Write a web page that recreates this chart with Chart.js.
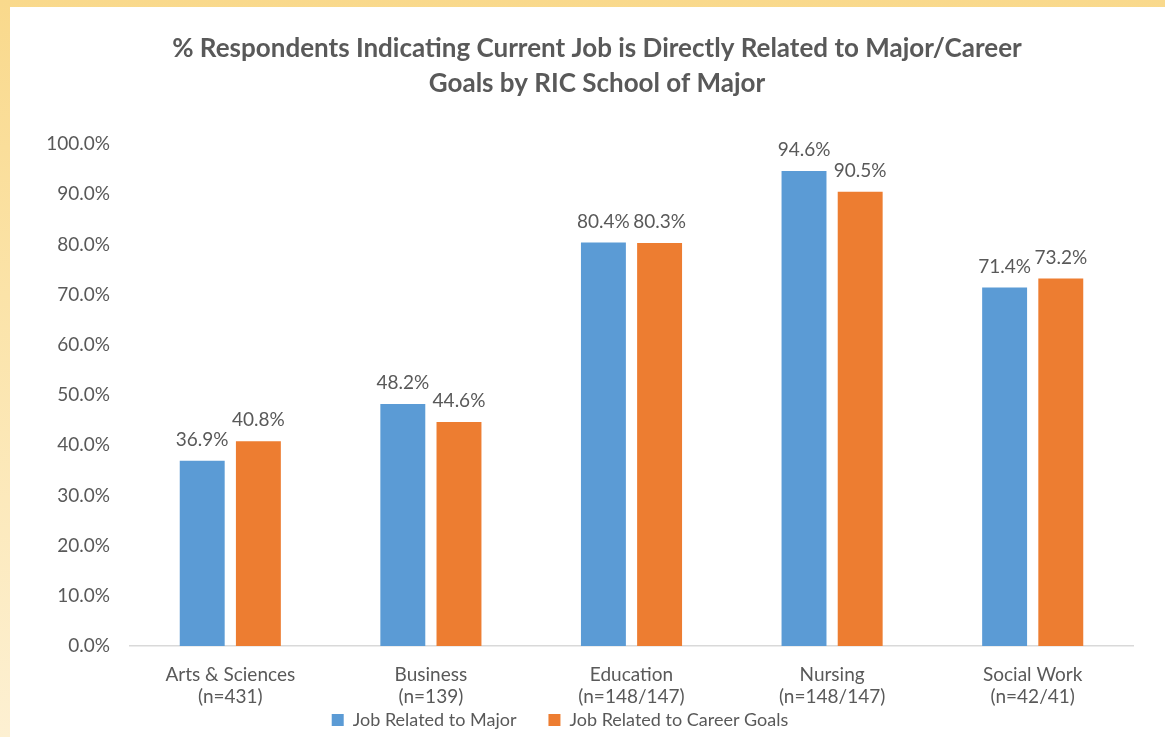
<!DOCTYPE html>
<html>
<head>
<meta charset="utf-8">
<script src="https://cdn.jsdelivr.net/npm/chart.js@4.4.1/dist/chart.umd.min.js"></script>
<style>
  html, body { margin: 0; padding: 0; }
  body {
    width: 1165px; height: 737px; overflow: hidden;
    background: linear-gradient(to bottom, #f9d98c 0%, #fbe3a8 40%, #fdf0d2 100%);
    position: relative;
  }
  #wrap {
    position: absolute; left: 10px; top: 7px; width: 1155px; height: 730px;
    background: #ffffff;
  }
</style>
</head>
<body>
<div id="wrap"><canvas id="c" width="1155" height="730"></canvas></div>
<script>
const titleLines = ["% Respondents Indicating Current Job is Directly Related to Major/Career", "Goals by RIC School of Major"];
const categories = [
  ["Arts & Sciences", "(n=431)"],
  ["Business", "(n=139)"],
  ["Education", "(n=148/147)"],
  ["Nursing", "(n=148/147)"],
  ["Social Work", "(n=42/41)"]
];
const seriesNames = ["Job Related to Major", "Job Related to Career Goals"];
const jobRelatedToMajor = [36.9, 48.2, 80.4, 94.6, 71.4];
const jobRelatedToCareer = [40.8, 44.6, 80.3, 90.5, 73.2];
const yTicks = [0, 10, 20, 30, 40, 50, 60, 70, 80, 90, 100];

const textColor = '#595959';
const fontFamily = 'Lato, "Open Sans", sans-serif';

const dataLabels = {
  id: 'dataLabels',
  afterDatasetsDraw(chart) {
    const ctx = chart.ctx;
    ctx.save();
    ctx.font = '19px ' + fontFamily;
    ctx.fillStyle = textColor;
    ctx.textAlign = 'center';
    ctx.textBaseline = 'middle';
    chart.data.datasets.forEach((ds, i) => {
      const meta = chart.getDatasetMeta(i);
      meta.data.forEach((bar, j) => {
        ctx.fillText(ds.data[j].toFixed(1) + '%', bar.x, bar.y - 21);
      });
    });
    ctx.restore();
  }
};

// Keep the legend compact in the layout, then place it just under the axis labels
const legendPlacement = {
  id: 'legendPlacement',
  beforeLayout(chart) {
    const lg = chart.legend;
    if (lg && !lg._patched) {
      const origFit = lg.fit;
      lg.fit = function () { origFit.call(this); this.height = 28; };
      lg._patched = true;
    }
  },
  afterLayout(chart) {
    const lg = chart.legend;
    if (!lg) return;
    const dy = -30, dx = -37;
    lg.top += dy;
    lg.bottom = lg.top + 58;
    lg.left += dx; lg.right += dx;
    lg.height = lg.bottom - lg.top;
  }
};

new Chart(document.getElementById('c'), {
  type: 'bar',
  data: {
    labels: categories,
    datasets: [
      { label: seriesNames[0], data: jobRelatedToMajor, backgroundColor: '#5b9bd5' },
      { label: seriesNames[1], data: jobRelatedToCareer, backgroundColor: '#ed7d31' }
    ]
  },
  plugins: [dataLabels, legendPlacement],
  options: {
    responsive: false,
    animation: false,
    layout: { padding: { left: 19, right: 0, top: 0, bottom: 0 } },
    datasets: { bar: { categoryPercentage: 0.56, barPercentage: 0.8 } },
    scales: {
      x: {
        grid: { display: false, drawTicks: false },
        border: { display: true, color: '#d9d9d9', width: 1.5 },
        ticks: { color: textColor, font: { family: fontFamily, size: 19, lineHeight: '22px' }, padding: 18, maxRotation: 0 },
        afterFit(scale) { scale.height = 63; }
      },
      y: {
        min: 0, max: 100,
        afterBuildTicks(scale) { scale.ticks = yTicks.map(v => ({ value: v })); },
        grid: { display: false, drawTicks: false },
        border: { display: false },
        ticks: {
          color: textColor, font: { family: fontFamily, size: 19 }, padding: 20,
          callback: v => v.toFixed(1) + '%'
        },
        afterFit(scale) { scale.width = 101; }
      },
      yRight: {
        type: 'linear', position: 'right', min: 0, max: 100,
        grid: { display: false, drawTicks: false },
        border: { display: false },
        ticks: { display: false },
        afterFit(scale) { scale.width = 32; }
      }
    },
    plugins: {
      title: {
        display: true,
        text: titleLines,
        color: textColor,
        font: { family: fontFamily, size: 26, weight: 'bold', lineHeight: '35px' },
        padding: { top: 24, bottom: 43 }
      },
      legend: {
        position: 'bottom',
        labels: { color: textColor, font: { family: fontFamily, size: 18 }, boxWidth: 12, boxHeight: 12, padding: 32 }
      },
      tooltip: { enabled: false }
    }
  }
});
</script>
</body>
</html>
